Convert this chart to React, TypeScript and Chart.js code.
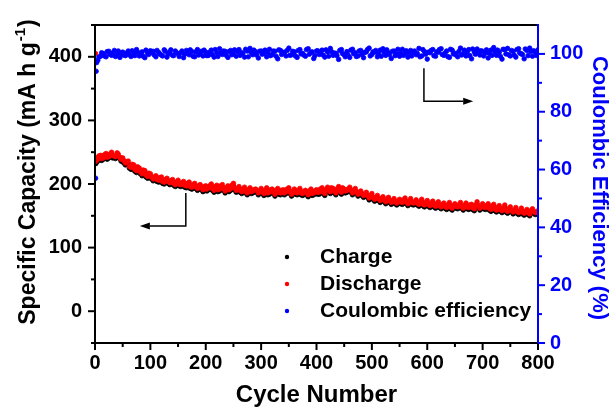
import React, { useEffect, useRef } from "react";
import { Chart, registerables } from "chart.js";

Chart.register(...registerables);

const FONT = '"Liberation Sans", Arial, Helvetica, sans-serif';

// ---- data (main sampled cycles) ----
const cycles = [
  1, 2, 3,
  5, 10, 15, 20, 25, 30, 35, 40, 45, 50,
  55, 60, 65, 70, 75, 80, 85, 90, 95, 100,
  105, 110, 115, 120, 125, 130, 135, 140, 145, 150,
  155, 160, 165, 170, 175, 180, 185, 190, 195, 200,
  205, 210, 215, 220, 225, 230, 235, 240, 245, 250,
  255, 260, 265, 270, 275, 280, 285, 290, 295, 300,
  305, 310, 315, 320, 325, 330, 335, 340, 345, 350,
  355, 360, 365, 370, 375, 380, 385, 390, 395, 400,
  405, 410, 415, 420, 425, 430, 435, 440, 445, 450,
  455, 460, 465, 470, 475, 480, 485, 490, 495, 500,
  505, 510, 515, 520, 525, 530, 535, 540, 545, 550,
  555, 560, 565, 570, 575, 580, 585, 590, 595, 600,
  605, 610, 615, 620, 625, 630, 635, 640, 645, 650,
  655, 660, 665, 670, 675, 680, 685, 690, 695, 700,
  705, 710, 715, 720, 725, 730, 735, 740, 745, 750,
  755, 760, 765, 770, 775, 780, 785, 790, 795, 800,
];

const chargeCapacity = [
  232, 233, 237,
  236, 241, 239, 244, 241, 246, 242, 245, 240, 237,
  230, 232, 223, 226, 218, 222, 213, 218, 209, 213,
  205, 210, 203, 207, 200, 206, 199, 203, 196, 202,
  196, 200, 194, 199, 192, 197, 190, 195, 188, 194,
  191, 196, 187, 194, 189, 195, 186, 193, 190, 197,
  187, 192, 185, 191, 183, 190, 186, 188, 183, 189,
  182, 190, 184, 188, 181, 189, 183, 187, 185, 190,
  181, 188, 183, 189, 182, 186, 180, 188, 183, 187,
  184, 190, 182, 191, 185, 189, 183, 192, 184, 188,
  187, 191, 183, 189, 181, 185, 179, 183, 175, 181,
  173, 178, 171, 176, 169, 175, 168, 173, 167, 172,
  168, 174, 166, 173, 167, 171, 165, 172, 164, 170,
  163, 169, 162, 168, 161, 166, 160, 167, 159, 165,
  161, 167, 159, 166, 160, 164, 158, 168, 159, 165,
  160, 165, 157, 164, 156, 162, 155, 163, 154, 160,
  153, 159, 152, 158, 151, 156, 150, 157, 152, 154,
];

const dischargeCapacity = [
  405, 236, 241,
  239, 245, 241, 248, 243, 250, 244, 249, 242, 241,
  233, 236, 226, 230, 221, 225, 216, 221, 212, 216,
  208, 213, 206, 211, 203, 209, 202, 207, 199, 206,
  199, 204, 197, 203, 195, 201, 193, 199, 191, 197,
  194, 200, 190, 198, 192, 199, 189, 197, 193, 201,
  190, 196, 188, 195, 186, 194, 189, 192, 186, 193,
  185, 194, 187, 192, 184, 193, 186, 191, 188, 194,
  184, 192, 186, 193, 185, 190, 183, 192, 186, 191,
  187, 194, 185, 195, 188, 193, 186, 196, 187, 192,
  190, 195, 186, 193, 184, 189, 182, 187, 178, 185,
  176, 182, 174, 180, 172, 179, 171, 177, 170, 176,
  171, 178, 169, 177, 170, 175, 168, 176, 167, 174,
  166, 173, 165, 172, 164, 170, 163, 171, 162, 169,
  164, 171, 162, 170, 163, 168, 161, 172, 162, 169,
  163, 169, 160, 168, 159, 166, 158, 167, 157, 164,
  156, 163, 155, 162, 154, 160, 153, 161, 155, 158,
];

const coulombicEfficiency = [
  57, 94, 97,
  97.8, 99.2, 100.1, 99.0, 100.9, 99.5, 101.2, 99.9, 98.8, 100.6,
  99.4, 101.0, 99.1, 100.4, 101.5, 99.3, 100.7, 98.7, 100.2, 101.1,
  100.9, 99.0, 100.5, 99.6, 101.4, 98.9, 100.6, 99.5, 101.0, 100.1,
  100.4, 98.7, 101.2, 99.7, 100.8, 99.0, 101.5, 100.2, 99.3, 100.6,
  99.5, 101.3, 98.9, 100.4, 101.8, 99.8, 100.9, 98.8, 101.2, 100.0,
  99.2, 101.5, 100.4, 98.9, 101.0, 101.9, 99.7, 100.7, 98.6, 101.0,
  100.2, 99.0, 101.6, 99.8, 100.9, 98.3, 101.2, 100.4, 99.3, 102.0,
  99.7, 100.7, 98.8, 101.5, 100.2, 99.2, 101.8, 100.5, 98.4, 101.0,
  99.8, 101.3, 98.9, 100.7, 101.9, 99.5, 100.2, 98.1, 101.5, 99.7,
  100.8, 98.8, 101.6, 100.4, 99.3, 101.2, 98.7, 100.7, 102.0, 99.8,
  100.6, 99.0, 101.3, 101.8, 99.5, 100.4, 98.4, 101.0, 100.0, 99.2,
  101.6, 100.2, 98.9, 101.2, 100.7, 99.7, 101.9, 99.3, 100.8, 98.2,
  100.4, 101.5, 99.2, 100.6, 101.8, 99.5, 101.0, 98.8, 101.3, 100.2,
  99.0, 102.0, 100.0, 99.3, 101.5, 98.3, 100.7, 101.7, 99.6, 100.9,
  100.3, 98.6, 101.3, 102.2, 99.5, 100.6, 98.2, 101.5, 101.9, 99.3,
  100.9, 98.9, 101.8, 100.0, 98.3, 101.2, 102.0, 99.2, 100.7, 101.4,
];

// ---- data (in-between cycles) ----
const cyclesMid = [
  7, 12, 17, 22, 27, 32, 37, 42, 47, 52,
  57, 62, 67, 72, 77, 82, 87, 92, 97, 102,
  107, 112, 117, 122, 127, 132, 137, 142, 147, 152,
  157, 162, 167, 172, 177, 182, 187, 192, 197, 202,
  207, 212, 217, 222, 227, 232, 237, 242, 247, 252,
  257, 262, 267, 272, 277, 282, 287, 292, 297, 302,
  307, 312, 317, 322, 327, 332, 337, 342, 347, 352,
  357, 362, 367, 372, 377, 382, 387, 392, 397, 402,
  407, 412, 417, 422, 427, 432, 437, 442, 447, 452,
  457, 462, 467, 472, 477, 482, 487, 492, 497, 502,
  507, 512, 517, 522, 527, 532, 537, 542, 547, 552,
  557, 562, 567, 572, 577, 582, 587, 592, 597, 602,
  607, 612, 617, 622, 627, 632, 637, 642, 647, 652,
  657, 662, 667, 672, 677, 682, 687, 692, 697, 702,
  707, 712, 717, 722, 727, 732, 737, 742, 747, 752,
  757, 762, 767, 772, 777, 782, 787, 792, 797,
];

const chargeCapacityMid = [
  241, 237, 242, 239, 244, 241, 240, 243, 236, 233,
  232, 225, 228, 220, 224, 216, 219, 211, 214, 208,
  208, 204, 207, 201, 204, 201, 202, 198, 200, 197,
  199, 195, 198, 193, 196, 193, 194, 191, 193, 189,
  194, 190, 193, 188, 194, 190, 191, 188, 195, 191,
  190, 187, 189, 186, 188, 185, 188, 187, 186, 185,
  187, 183, 188, 185, 187, 184, 187, 183, 189, 185,
  186, 184, 187, 183, 185, 183, 186, 182, 186, 184,
  189, 185, 188, 187, 191, 186, 189, 187, 191, 186,
  189, 187, 187, 185, 184, 182, 181, 179, 178, 176,
  176, 174, 174, 172, 173, 171, 171, 169, 170, 169,
  172, 169, 170, 168, 169, 167, 169, 166, 168, 165,
  167, 164, 166, 163, 165, 162, 164, 161, 163, 162,
  164, 162, 163, 161, 164, 160, 164, 163, 162, 161,
  163, 159, 162, 158, 160, 157, 159, 156, 158, 156,
  156, 154, 155, 153, 154, 152, 155, 154, 153,
];

const dischargeCapacityMid = [
  244, 240, 246, 242, 247, 245, 243, 247, 239, 237,
  235, 228, 231, 223, 227, 219, 222, 214, 217, 211,
  211, 207, 210, 204, 207, 204, 205, 201, 203, 200,
  202, 198, 201, 196, 199, 196, 197, 194, 196, 192,
  197, 193, 196, 191, 197, 193, 194, 191, 198, 194,
  193, 190, 192, 189, 191, 188, 191, 190, 189, 188,
  190, 186, 191, 188, 190, 187, 190, 186, 192, 188,
  189, 187, 190, 186, 188, 186, 189, 185, 189, 187,
  192, 188, 191, 190, 194, 189, 192, 190, 194, 189,
  192, 190, 190, 188, 187, 185, 184, 182, 181, 179,
  179, 177, 177, 175, 176, 174, 174, 172, 173, 172,
  175, 172, 173, 171, 172, 170, 172, 169, 171, 168,
  170, 167, 169, 166, 168, 165, 167, 164, 166, 165,
  167, 165, 166, 164, 167, 163, 167, 166, 165, 164,
  166, 162, 165, 161, 163, 160, 162, 159, 161, 159,
  159, 157, 158, 156, 157, 155, 158, 157, 156,
];

const coulombicEfficiencyMid = [
  98.9, 100.4, 99.3, 100.8, 99.9, 100.3, 99.1, 101.0, 100.2, 99.6,
  100.3, 99.7, 101.1, 99.4, 100.6, 100.1, 99.2, 101.3, 99.8, 100.4,
  99.6, 101.2, 100.0, 99.3, 100.9, 99.9, 101.4, 99.4, 100.5, 99.1,
  101.0, 99.9, 100.3, 101.4, 99.2, 100.7, 99.6, 100.9, 101.3, 99.4,
  100.6, 99.8, 101.5, 99.1, 100.3, 101.0, 99.5, 100.8, 99.7, 101.4,
  100.8, 99.5, 100.2, 101.6, 99.0, 100.5, 101.3, 99.6, 100.9, 99.9,
  101.3, 100.5, 99.4, 101.0, 99.2, 101.4, 99.8, 100.6, 101.2, 99.5,
  100.9, 99.3, 101.2, 100.0, 99.6, 101.5, 99.9, 100.7, 99.4, 101.1,
  100.4, 99.6, 101.4, 99.2, 100.8, 100.3, 99.4, 101.2, 100.1, 99.0,
  99.6, 101.3, 100.1, 99.1, 101.0, 99.8, 100.5, 101.5, 99.3, 100.7,
  101.2, 100.0, 99.2, 100.6, 101.4, 99.7, 100.9, 99.4, 101.6, 100.3,
  99.5, 101.1, 100.4, 99.3, 101.0, 100.2, 99.0, 101.5, 99.9, 100.6,
  101.2, 99.4, 100.7, 101.5, 99.8, 100.3, 99.1, 101.6, 100.0, 99.6,
  100.8, 99.6, 101.3, 100.5, 99.4, 101.7, 99.9, 100.4, 101.1, 99.3,
  101.4, 100.2, 99.5, 100.8, 101.3, 99.2, 101.6, 100.0, 99.7, 101.2,
  99.6, 101.5, 100.3, 99.8, 101.7, 99.4, 100.8, 101.1, 99.5,
];

const seriesLabels = ["Charge", "Discharge", "Coulombic efficiency"];
const seriesColors = ["#000000", "#ff0000", "#0000ff"];

const cycleMajorTicks = [0, 100, 200, 300, 400, 500, 600, 700, 800];
const cycleMinorTicks = [50, 150, 250, 350, 450, 550, 650, 750];
const capacityMajorTicks = [0, 100, 200, 300, 400];
const capacityMinorTicks = [-50, 50, 150, 250, 350, 450];
const ceMajorTicks = [0, 20, 40, 60, 80, 100];
const ceMinorTicks = [10, 30, 50, 70, 90];

// arrow annotations in data coordinates [cycle, capacity]
const leftArrowPath = [[164, 186], [164, 134], [81, 134]];
const rightArrowPath = [[594, 382], [594, 330], [683, 330]];

const xTitle = "Cycle Number";
const yTitleMain = "Specific Capacity (mA h g";
const yTitleSup = "-1";
const yTitleEnd = ")";
const y1Title = "Coulombic Efficiency (%)";

const toPoints = (xs: number[], vals: number[]) => vals.map((v, i) => ({ x: xs[i], y: v }));

const decorPlugin = {
  id: "decor",
  afterDraw(chart: any) {
    const { ctx, chartArea: a, scales } = chart;
    const sx = scales.x, sy = scales.y, sy1 = scales.y1;
    ctx.save();
    ctx.lineCap = "square";
    const line = (x1: number, y1: number, x2: number, y2: number) => {
      ctx.beginPath();
      ctx.moveTo(x1, y1);
      ctx.lineTo(x2, y2);
      ctx.stroke();
    };
    // frame
    ctx.lineWidth = 2;
    ctx.strokeStyle = "#000";
    line(a.left, a.top, a.right, a.top);
    line(a.left, a.top, a.left, a.bottom);
    line(a.left, a.bottom, a.right, a.bottom);
    ctx.strokeStyle = "#0000ff";
    line(a.right, a.top, a.right, a.bottom);

    ctx.lineCap = "butt";
    // x ticks
    ctx.strokeStyle = "#000";
    ctx.lineWidth = 2;
    cycleMajorTicks.forEach((v) => { const p = sx.getPixelForValue(v); line(p, a.bottom, p, a.bottom + 7); });
    cycleMinorTicks.forEach((v) => { const p = sx.getPixelForValue(v); line(p, a.bottom, p, a.bottom + 4); });
    // left ticks
    capacityMajorTicks.forEach((v) => { const p = sy.getPixelForValue(v); line(a.left, p, a.left - 7, p); });
    capacityMinorTicks.forEach((v) => { const p = sy.getPixelForValue(v); line(a.left, p, a.left - 4, p); });
    // right ticks
    ctx.strokeStyle = "#0000ff";
    ceMajorTicks.forEach((v) => { const p = sy1.getPixelForValue(v); line(a.right, p, a.right + 7, p); });
    ceMinorTicks.forEach((v) => { const p = sy1.getPixelForValue(v); line(a.right, p, a.right + 4, p); });

    // arrows
    const drawArrow = (path: number[][]) => {
      const pts = path.map(([cx, cy]) => [sx.getPixelForValue(cx), sy.getPixelForValue(cy)]);
      ctx.strokeStyle = "#000";
      ctx.fillStyle = "#000";
      ctx.lineWidth = 1.5;
      const n = pts.length;
      const [tx, ty] = pts[n - 1];
      const [px, py] = pts[n - 2];
      const ang = Math.atan2(ty - py, tx - px);
      const headLen = 10, headW = 3.5;
      const bx = tx - headLen * Math.cos(ang), by = ty - headLen * Math.sin(ang);
      ctx.beginPath();
      ctx.moveTo(pts[0][0], pts[0][1]);
      for (let i = 1; i < n - 1; i++) ctx.lineTo(pts[i][0], pts[i][1]);
      ctx.lineTo(bx, by);
      ctx.stroke();
      ctx.beginPath();
      ctx.moveTo(tx, ty);
      ctx.lineTo(bx - headW * Math.sin(ang), by + headW * Math.cos(ang));
      ctx.lineTo(bx + headW * Math.sin(ang), by - headW * Math.cos(ang));
      ctx.closePath();
      ctx.fill();
    };
    drawArrow(leftArrowPath);
    drawArrow(rightArrowPath);

    // legend
    const ds = chart.data.datasets;
    [0, 1, 2].forEach((di, row) => {
      const d = ds[di];
      const yy = 257 + row * 27;
      ctx.fillStyle = d.backgroundColor;
      ctx.beginPath();
      ctx.arc(287, yy, 2.2, 0, Math.PI * 2);
      ctx.fill();
      ctx.fillStyle = "#000";
      ctx.font = `bold 21px ${FONT}`;
      ctx.textAlign = "left";
      ctx.textBaseline = "middle";
      ctx.fillText(d.label, 320, yy);
    });

    // x title
    ctx.fillStyle = "#000";
    ctx.font = `bold 24px ${FONT}`;
    ctx.textAlign = "center";
    ctx.textBaseline = "middle";
    ctx.fillText(xTitle, (a.left + a.right) / 2, 395);

    // left title with superscript
    ctx.save();
    ctx.translate(35, 173);
    ctx.rotate(-Math.PI / 2);
    ctx.textAlign = "left";
    ctx.textBaseline = "alphabetic";
    const mainFont = `bold 23px ${FONT}`;
    const supFont = `bold 15px ${FONT}`;
    ctx.font = mainFont;
    const w1 = ctx.measureText(yTitleMain).width;
    const w3 = ctx.measureText(yTitleEnd).width;
    ctx.font = supFont;
    const w2 = ctx.measureText(yTitleSup).width;
    const x0 = -(w1 + w2 + w3) / 2;
    ctx.font = mainFont;
    ctx.fillText(yTitleMain, x0, 0);
    ctx.font = supFont;
    ctx.fillText(yTitleSup, x0 + w1 + 1, -10);
    ctx.font = mainFont;
    ctx.fillText(yTitleEnd, x0 + w1 + w2 + 2, 0);
    ctx.restore();

    // right title
    ctx.save();
    ctx.translate(593, (a.top + a.bottom) / 2 + 4);
    ctx.rotate(Math.PI / 2);
    ctx.fillStyle = "#0000ff";
    ctx.font = `bold 22px ${FONT}`;
    ctx.textAlign = "center";
    ctx.textBaseline = "alphabetic";
    ctx.fillText(y1Title, 0, 0);
    ctx.restore();

    ctx.restore();
  },
};

export default function App() {
  const ref = useRef<HTMLCanvasElement>(null);
  useEffect(() => {
    if (!ref.current) return;
    Chart.defaults.font.family = FONT;
    const mk = (i: number, vals: number[], midVals: number[], axis: string, order: number) => ({
      label: seriesLabels[i],
      data: toPoints(cycles, vals).concat(toPoints(cyclesMid, midVals)),
      yAxisID: axis,
      backgroundColor: seriesColors[i],
      borderColor: seriesColors[i],
      pointRadius: 2.3,
      pointBorderWidth: 0.8,
      showLine: false,
      order,
    });
    const chart = new Chart(ref.current, {
      type: "scatter",
      data: {
        datasets: [
          mk(0, chargeCapacity, chargeCapacityMid, "y", 3),
          mk(1, dischargeCapacity, dischargeCapacityMid, "y", 2),
          mk(2, coulombicEfficiency, coulombicEfficiencyMid, "y1", 1),
        ],
      },
      options: {
        animation: false,
        responsive: false,
        devicePixelRatio: 1,
        layout: { padding: { top: 14, left: 0, right: 0, bottom: 0 } },
        plugins: { legend: { display: false }, tooltip: { enabled: false } },
        scales: {
          x: {
            type: "linear",
            min: 0,
            max: 800,
            grid: { display: false, drawTicks: false },
            border: { display: false },
            ticks: {
              stepSize: 100,
              padding: 8,
              color: "#000",
              font: { size: 20, weight: "bold", family: FONT },
              maxRotation: 0,
              callback: (v: any) => (cycleMajorTicks.includes(v) ? String(v) : ""),
            },
            afterFit: (s: any) => { s.height = 67; },
          },
          y: {
            type: "linear",
            position: "left",
            min: -50,
            max: 450,
            grid: { display: false, drawTicks: false },
            border: { display: false },
            ticks: {
              stepSize: 50,
              padding: 13,
              color: "#000",
              font: { size: 20, weight: "bold", family: FONT },
              callback: (v: any) => (capacityMajorTicks.includes(v) ? String(v) : ""),
            },
            afterFit: (s: any) => { s.width = 95; },
          },
          y1: {
            type: "linear",
            position: "right",
            min: 0,
            max: 110,
            grid: { display: false, drawTicks: false },
            border: { display: false },
            ticks: {
              stepSize: 10,
              padding: 12,
              color: "#0000ff",
              font: { size: 20, weight: "bold", family: FONT },
              callback: (v: any) => (ceMajorTicks.includes(v) ? String(v) : ""),
            },
            afterFit: (s: any) => { s.width = 76; },
          },
        },
      },
      plugins: [decorPlugin],
    } as any);
    return () => chart.destroy();
  }, []);
  return (
    <div style={{ position: "fixed", left: 0, top: 0, width: 614, height: 410, background: "#fff" }}>
      <canvas ref={ref} width={614} height={410} style={{ width: 614, height: 410, display: "block" }} />
    </div>
  );
}
